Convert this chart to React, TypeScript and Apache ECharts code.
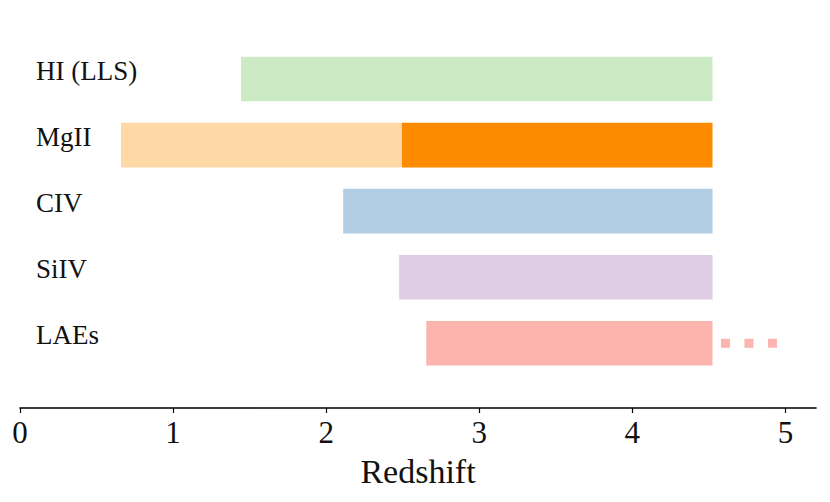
import React, { useEffect, useRef } from "react";
import * as echarts from "echarts";

const categories = ["HI (LLS)", "MgII", "CIV", "SiIV", "LAEs"];
const startZ = [1.444, 0.66, 2.111, 2.477, 2.654];
const endZ = [4.524, 4.524, 4.524, 4.524, 4.524];
const mgiiSplit = 2.495;
const barColors = ["#ccebc5", "#fed9a6", "#b3cde3", "#decbe4", "#fbb4ae"];
const splitColor = "#ff8c00";
const laeExtension = [4.579, 4.95];
const xTicks = [0, 1, 2, 3, 4, 5];
const xMax = 5.2;
const xName = "Redshift";

export default function App() {
  const ref = useRef<HTMLDivElement>(null);
  useEffect(() => {
    document.body.style.margin = "0";
    if (!ref.current) return;
    const chart = echarts.init(ref.current, null, { renderer: "svg" });
    const font = "'Liberation Serif', 'Times New Roman', serif";
    const mgIdx = categories.indexOf("MgII");
    const laeIdx = categories.indexOf("LAEs");
    const firstLen = categories.map((c, i) =>
      i === mgIdx ? mgiiSplit - startZ[i] : endZ[i] - startZ[i]
    );
    const secondLen = categories.map((c, i) =>
      i === mgIdx ? endZ[i] - mgiiSplit : 0
    );
    chart.setOption({
      animation: false,
      grid: { left: 20, right: 14, top: 46, height: 330.3 },
      xAxis: {
        type: "value",
        min: 0,
        max: xMax,
        interval: 1,
        offset: 31.7,
        axisLine: { show: true, lineStyle: { color: "#000", width: 1.6 } },
        axisTick: { show: true, length: 5, lineStyle: { color: "#000", width: 1.2 } },
        axisLabel: {
          color: "#111",
          fontFamily: font,
          fontSize: 31,
          margin: 9,
          showMaxLabel: false,
          formatter: (v: number) => (xTicks.includes(v) ? String(v) : ""),
        },
        splitLine: { show: false },
        name: xName,
        nameLocation: "middle",
        nameGap: 46,
        nameTextStyle: { color: "#111", fontFamily: font, fontSize: 34 },
      },
      yAxis: {
        type: "category",
        data: categories,
        inverse: true,
        axisLine: { show: false },
        axisTick: { show: false },
        axisLabel: {
          color: "#111",
          fontFamily: font,
          fontSize: 27,
          align: "left",
          margin: -16,
          verticalAlign: "bottom",
          lineHeight: 16,
        },
      },
      series: [
        {
          type: "bar",
          stack: "z",
          barWidth: 44.6,
          itemStyle: { color: "transparent" },
          data: startZ,
          silent: true,
        },
        {
          type: "bar",
          stack: "z",
          barWidth: 44.6,
          data: firstLen.map((v, i) => ({ value: v, itemStyle: { color: barColors[i] } })),
        },
        {
          type: "bar",
          stack: "z",
          barWidth: 44.6,
          data: secondLen.map((v) => ({ value: v, itemStyle: { color: splitColor } })),
        },
        {
          type: "line",
          symbol: "none",
          data: laeExtension.map((x) => [x, laeIdx]),
          lineStyle: { color: barColors[laeIdx], width: 9, type: [9, 14.5], cap: "butt" },
        },
      ],
    });
    return () => chart.dispose();
  }, []);
  return <div ref={ref} style={{ width: 830, height: 502 }} />;
}
